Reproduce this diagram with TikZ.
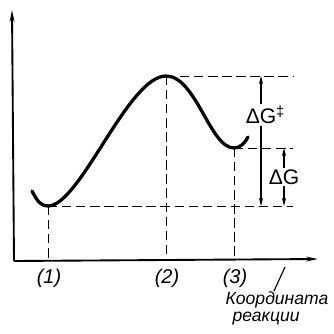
\documentclass[tikz,border=0pt]{standalone}
\usepackage{fontspec}
\setmainfont{Liberation Sans}
\usetikzlibrary{positioning,calc,arrows.meta}
\tikzset{
  axisline/.style={line width=1.6pt, -{Stealth[length=10pt,width=4pt]}},
  guide/.style={line width=0.8pt, dash pattern=on 8pt off 4pt},
  profile/.style={line width=2.8pt, line cap=round},
  gaparrow/.style={line width=0.9pt, -{Stealth[length=7pt,width=3.5pt]}},
  pointlbl/.style={font=\fontsize{17}{17}\selectfont\itshape},
  gaplbl/.style={font=\fontsize{18}{18}\selectfont, inner sep=1pt},
  caplbl/.style={font=\fontsize{15}{15}\selectfont\itshape, inner sep=0.5pt},
}
\begin{document}
\begin{tikzpicture}[x=0.03cm,y=-0.03cm]
\useasboundingbox (0,0) rectangle (333,334);
% axes
\coordinate (O) at (14,261);
\coordinate (yend) at (12,10);
\coordinate (xend) at (318,259);
\draw[axisline] (O) -- (yend);
\draw[axisline] (O) -- (xend);
% points on the profile
\coordinate (m1) at (48,206);
\coordinate (ts) at (166,76);
\coordinate (m3) at (234,148);
\coordinate (gright) at (293,0);
% energy profile
\draw[profile] (32,191) .. controls (38,203) and (42,206) .. (m1)
  .. controls (80,206) and (128,76) .. (ts)
  .. controls (196,76) and (210,148) .. (m3)
  .. controls (240,148) and (245,143) .. (248,137);
% guide lines
\foreach \pt/\lbl in {m1/1, ts/2, m3/3}{
  \draw[guide] (\pt) -- (\pt -| gright);
  \draw[guide] (\pt) -- (\pt |- O);
  \node[pointlbl] (p\lbl) at ($(\pt |- O)+(1,17)$) {(\lbl)};
}
% activation and reaction energies
\node[gaplbl] (dGa) at (261,115) {ΔG\rlap{\textsuperscript{‡}}};
\draw[gaparrow] (dGa.north) -- (dGa.north |- ts);
\draw[gaparrow] (dGa.south) -- (dGa.south |- m1);
\node[gaplbl] (dG) at (284,177) {ΔG};
\draw[gaparrow] (dG.north) -- (dG.north |- m3);
\draw[gaparrow] (dG.south) -- (dG.south |- m1);
% axis caption
\coordinate (tick) at (285,267);
\coordinate (tickend) at (274,0);
\node[caplbl] (cap1) at (277,300) {Координата};
\node[caplbl, anchor=north west, xshift=6pt, yshift=-1.5pt] (cap2) at (cap1.south west) {реакции};
\draw[line width=1pt] (tick) -- (cap1.north -| tickend);
\end{tikzpicture}
\end{document}
